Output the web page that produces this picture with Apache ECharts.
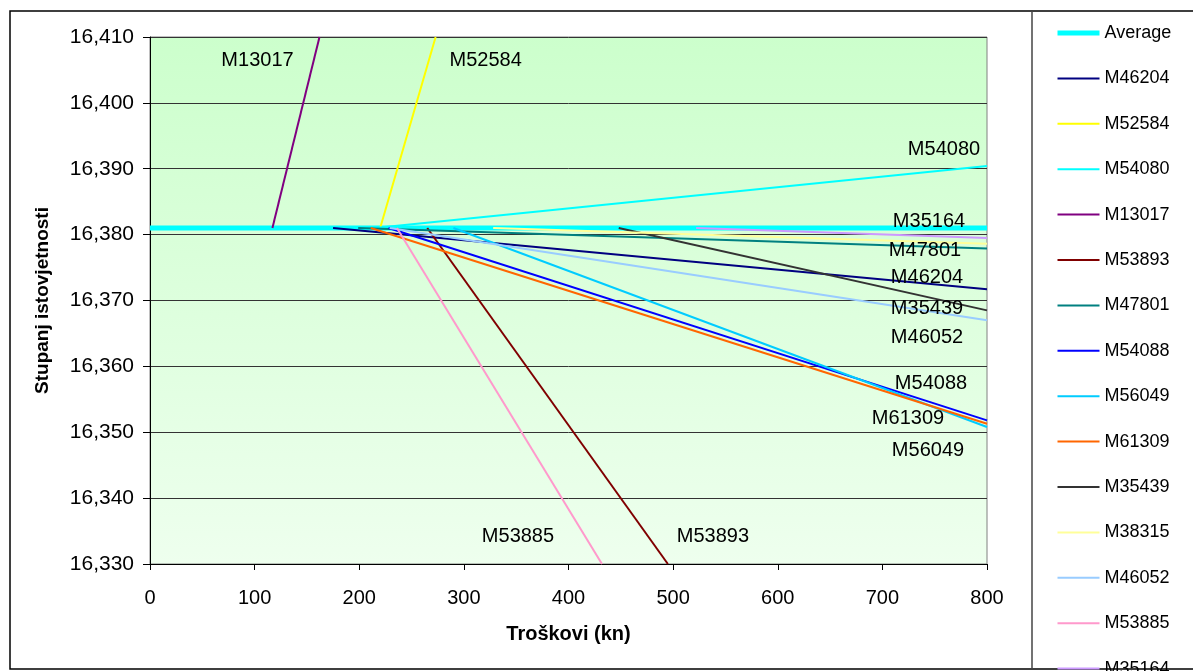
<!DOCTYPE html>
<html>
<head>
<meta charset="utf-8">
<title>Stupanj istovjetnosti / Troškovi</title>
<script src="https://cdn.jsdelivr.net/npm/echarts@6/dist/echarts.min.js"></script>
<style>
  html, body { margin: 0; padding: 0; background: #fff; }
  #chart { width: 1193px; height: 671px; }
</style>
</head>
<body>
<div id="chart"></div>
<script>
// [troskovi (kn), stupanj istovjetnosti] - start on the average, end at 800 or at the plot edge
const average = [[0, 16.381], [800, 16.381]]
const m46204 = [[175, 16.381], [800, 16.3717]]
const m52584 = [[220, 16.381], [273, 16.41]]
const m54080 = [[215, 16.381], [800, 16.3904]]
const m13017 = [[117, 16.381], [162, 16.41]]
const m53893 = [[265, 16.381], [495, 16.33]]
const m47801 = [[199, 16.381], [800, 16.3779]]
const m54088 = [[228, 16.381], [800, 16.3518]]
const m56049 = [[290, 16.381], [800, 16.3508]]
const m61309 = [[211, 16.381], [800, 16.3513]]
const m35439 = [[448, 16.381], [800, 16.3685]]
const m38315 = [[328, 16.381], [800, 16.3786]]
const m46052 = [[229, 16.381], [800, 16.367]]
const m53885 = [[236, 16.381], [432, 16.33]]
const m35164 = [[522, 16.381], [800, 16.3795]]

const FONT = 'Liberation Sans, Arial, sans-serif'

// label: offset (px) of the name from the last point
const lines = [
  { name: 'Average', data: average, color: '#00FFFF', width: 5 },
  { name: 'M46204', data: m46204, color: '#000080', label: [-60, -12] },
  { name: 'M52584', data: m52584, color: '#FFFF00', label: [50, 23] },
  { name: 'M54080', data: m54080, color: '#00FFFF', label: [-43, -17] },
  { name: 'M13017', data: m13017, color: '#800080', label: [-62, 23] },
  { name: 'M53893', data: m53893, color: '#800000', label: [45, -28] },
  { name: 'M47801', data: m47801, color: '#008080', label: [-62, 2] },
  { name: 'M54088', data: m54088, color: '#0000FF', label: [-56, -37] },
  { name: 'M56049', data: m56049, color: '#00CCFF', label: [-59, 24] },
  { name: 'M61309', data: m61309, color: '#FF6600', label: [-79, -5] },
  { name: 'M35439', data: m35439, color: '#333333', label: [-60, -2] },
  { name: 'M38315', data: m38315, color: '#FFFF99' },
  { name: 'M46052', data: m46052, color: '#99CCFF', label: [-60, 17] },
  { name: 'M53885', data: m53885, color: '#FF99CC', label: [-84, -28] },
  { name: 'M35164', data: m35164, color: '#CC99FF', label: [-58, -16] }
]

function buildSeries(s) {
  const last = s.data.length - 1
  return {
    name: s.name,
    type: 'line',
    symbol: 'none',
    clip: false,
    silent: true,
    animation: false,
    lineStyle: { color: s.color, width: s.width || 2 },
    itemStyle: { color: s.color },
    data: s.data.map((p, i) => {
      if (!s.label || i !== last) return p
      return {
        value: p,
        symbol: 'circle',
        symbolSize: 0,
        label: {
          show: true,
          position: 'inside',
          offset: s.label,
          formatter: s.name,
          color: '#000',
          fontSize: 20,
          fontFamily: FONT
        }
      }
    })
  }
}

const chart = echarts.init(document.getElementById('chart'))
chart.setOption({
  backgroundColor: '#fff',
  animation: false,
  grid: {
    left: 150,
    right: 206,
    top: 37,
    bottom: 107,
    show: true,
    borderColor: '#808080',
    borderWidth: 1,
    backgroundColor: new echarts.graphic.LinearGradient(0, 0, 0, 1, [
      { offset: 0, color: '#CCFFCC' },
      { offset: 1, color: '#EEFFEE' }
    ]),
    outerBoundsMode: 'none'
  },
  xAxis: {
    type: 'value',
    min: 0,
    max: 800,
    interval: 100,
    name: 'Troškovi (kn)',
    nameLocation: 'middle',
    nameGap: 60,
    nameTextStyle: { color: '#000', fontSize: 20, fontWeight: 'bold', fontFamily: FONT },
    axisLine: { show: true, lineStyle: { color: '#000', width: 1 } },
    axisTick: { show: true, inside: false, length: 6, lineStyle: { color: '#000' } },
    axisLabel: { color: '#000', fontSize: 20, fontFamily: FONT, margin: 24 },
    splitLine: { show: false }
  },
  yAxis: {
    type: 'value',
    min: 16.33,
    max: 16.41,
    interval: 0.01,
    name: 'Stupanj istovjetnosti',
    nameLocation: 'middle',
    nameGap: 98,
    nameRotate: 90,
    nameTextStyle: { color: '#000', fontSize: 19, fontWeight: 'bold', fontFamily: FONT },
    axisLine: { show: true, lineStyle: { color: '#000', width: 1 } },
    axisTick: { show: true, inside: false, length: 7, lineStyle: { color: '#000' } },
    axisLabel: {
      color: '#000',
      fontSize: 21,
      fontFamily: FONT,
      margin: 16,
      formatter: v => v.toFixed(3).replace('.', ',')
    },
    splitLine: { show: true, lineStyle: { color: '#333', width: 1 } }
  },
  legend: {
    orient: 'vertical',
    left: 1055,
    top: 24,
    height: 800,
    padding: 0,
    itemWidth: 42,
    itemHeight: 16,
    itemGap: 27.4,
    selectedMode: false,
    itemStyle: { color: 'rgba(0,0,0,0)', borderWidth: 0, opacity: 0 },
    textStyle: { color: '#000', fontSize: 18, fontFamily: FONT, lineHeight: 16 },
    data: lines.map(s => ({ name: s.name, lineStyle: { width: s.width || 2 } }))
  },
  graphic: [
    {
      type: 'rect',
      silent: true,
      shape: { x: 10, y: 11, width: 1200, height: 658 },
      style: { fill: 'none', stroke: '#000', lineWidth: 1.5 }
    },
    {
      type: 'line',
      silent: true,
      shape: { x1: 1032, y1: 11, x2: 1032, y2: 669 },
      style: { stroke: '#444', lineWidth: 1.5 }
    }
  ],
  series: lines.map(buildSeries)
})
</script>
</body>
</html>
